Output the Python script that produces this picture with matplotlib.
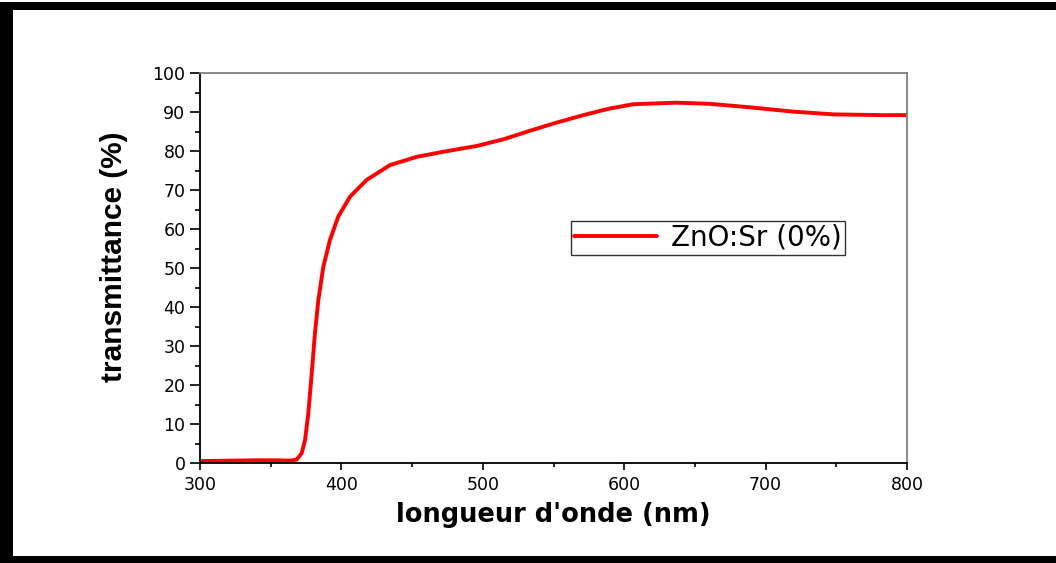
import matplotlib
matplotlib.use("Agg")
import matplotlib.pyplot as plt
from matplotlib.patches import Rectangle
from matplotlib.ticker import MultipleLocator

# données
wavelength = [300, 320, 340, 355, 364, 368.4, 371.9, 374.3, 376.6, 379, 381.3, 383.7, 387.2,
              391.9, 397.8, 406.1, 417.9, 434.4, 453.2, 472, 495.7, 514.5, 533.4, 552.3,
              571.1, 583, 590, 606.4, 637.1, 660.7, 689, 719.6, 747.9, 783.2, 800]
transmittance = [0.5, 0.6, 0.7, 0.7, 0.6, 0.9, 2.5, 5.9, 12.7, 23.0, 33.3, 41.8, 50.3,
                 57.2, 63.2, 68.3, 72.6, 76.4, 78.5, 79.8, 81.3, 83.0, 85.2, 87.3,
                 89.2, 90.3, 90.9, 92.0, 92.4, 92.1, 91.2, 90.1, 89.4, 89.2, 89.2]

plt.rcParams['font.family'] = ['DejaVu Sans']

fig = plt.figure(figsize=(10.56, 5.63), dpi=100)
ax = fig.add_axes([0.1894, 0.1776, 0.6695, 0.6927])

ax.plot(wavelength, transmittance, color='red', lw=2.8, label='ZnO:Sr (0%)',
        solid_joinstyle='round', solid_capstyle='round')

ax.set_xlim(300, 800)
ax.set_ylim(0, 100)
ax.xaxis.set_major_locator(MultipleLocator(100))
ax.xaxis.set_minor_locator(MultipleLocator(50))
ax.yaxis.set_major_locator(MultipleLocator(10))
ax.yaxis.set_minor_locator(MultipleLocator(5))
ax.tick_params(which='both', direction='out', width=1.2, top=False, right=False)
ax.tick_params(axis='x', which='major', length=5, labelsize=12.5, pad=4)
ax.tick_params(axis='x', which='minor', length=3)
ax.tick_params(axis='y', which='major', length=7.5, labelsize=12.5, pad=3)
ax.tick_params(axis='y', which='minor', length=3.5)

for s in ['left', 'bottom']:
    ax.spines[s].set_linewidth(1.3)
    ax.spines[s].set_color('black')
for s in ['top', 'right']:
    ax.spines[s].set_linewidth(1.3)
    ax.spines[s].set_color('#808080')

ax.set_xlabel("longueur d'onde (nm)", fontsize=18.5, fontweight='bold', labelpad=6)
ax.set_ylabel('transmittance (%)', fontsize=21.5, fontweight='bold',
              family=['Liberation Sans', 'DejaVu Sans'])
ax.yaxis.set_label_coords(-0.102, 0.528)

leg = ax.legend(loc='upper left', bbox_to_anchor=(0.5248, 0.6205), fontsize=20,
                handlelength=3.0, frameon=True, fancybox=False, borderpad=0.1,
                handletextpad=0.5, borderaxespad=0)
leg.get_frame().set_edgecolor('black')
leg.get_frame().set_linewidth(1.0)

# cadre noir autour de la figure
fig.add_artist(Rectangle((0, 1 - 10 / 563), 1, 8 / 563, transform=fig.transFigure,
                         color='black', lw=0))
fig.add_artist(Rectangle((0, 0), 13 / 1056, 1 - 2 / 563, transform=fig.transFigure,
                         color='black', lw=0))
fig.add_artist(Rectangle((0, 0), 1, 7 / 563, transform=fig.transFigure,
                         color='black', lw=0))

fig.savefig('out.png', dpi=100)
